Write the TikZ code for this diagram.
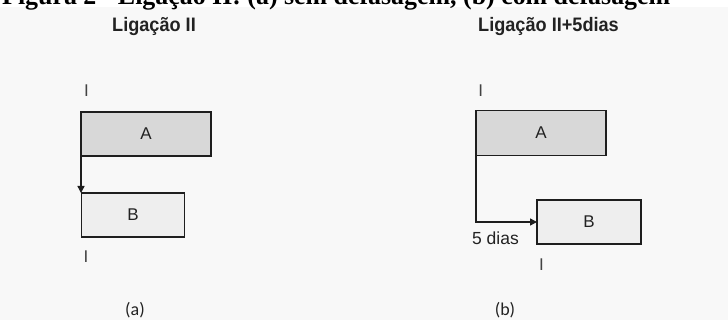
\documentclass[tikz,border=0pt]{standalone}
\usepackage{fontspec}
\setmainfont{Liberation Sans}
\newfontfamily\titlefont{Liberation Serif}
\newfontfamily\capfont{Carlito}
\usetikzlibrary{arrows.meta}
\definecolor{bgc}{HTML}{F8F8F8}
\definecolor{afill}{HTML}{D8D8D8}
\definecolor{bfill}{HTML}{EEEEEE}
\definecolor{edge}{HTML}{1E1E1E}
\definecolor{txt}{HTML}{222222}
\tikzset{
  taskbox/.style={draw=edge, line width=1.8pt, inner sep=0pt, outer sep=0pt, anchor=north west,
    font=\fontsize{17}{17}\selectfont, text=txt},
  conn/.style={draw=edge, line width=1.4pt, -{Triangle[length=7pt,width=7pt]}},
  tick/.style={inner sep=0pt, font=\fontsize{17}{17}\selectfont, text=txt!85},
  heading/.style={inner sep=0pt, anchor=base, font=\bfseries\fontsize{19.5}{19.5}\selectfont, text=txt, xscale=0.93},
  caption/.style={inner sep=0pt, font=\capfont\fontsize{18}{18}\selectfont, text=txt},
  lbl/.style={inner sep=0pt, font=\fontsize{17.5}{17.5}\selectfont, text=txt}
}
\begin{document}
\begin{tikzpicture}[x=1pt,y=-1pt]
\useasboundingbox (0,0) rectangle (728,320);
\fill[white] (0,0) rectangle (728,320);
\fill[bgc] (0,7) rectangle (728,320);
% clipped title
\node[inner sep=0pt, anchor=base west] (title) at (2,5)
  {\resizebox{668pt}{!}{\titlefont\bfseries Figura 2 - Ligação II: (a) sem defasagem, (b) com defasagem}};
% headings
\node[heading] (ha) at (154,32) {Ligação II};
\node[heading] (hb) at (548.5,32) {Ligação II+5dias};
% panel (a)
\node[taskbox, fill=afill, minimum width=130pt, minimum height=44pt] (aA) at (81,112) {A};
\node[taskbox, fill=bfill, minimum width=103pt, minimum height=44pt] (aB) at (81.5,193) {B};
\draw[conn] (aA.south west) -- (aA.south west |- aB.north);
\node[tick] (aI1) at (86.5,90.5) {I};
\node[tick] (aI2) at (86,256.5) {I};
\node[caption] (capa) at (135,310.5) {(a)};
% panel (b)
\node[taskbox, fill=afill, minimum width=130pt, minimum height=45pt] (bA) at (476,110.5) {A};
\node[taskbox, fill=bfill, minimum width=104pt, minimum height=44pt] (bB) at (537,200) {B};
\draw[conn] (bA.south west) |- (bB.west);
\node[lbl] (dias) at (495.5,238) {5 dias};
\node[tick] (bI1) at (480.7,91) {I};
\node[tick] (bI2) at (541.5,265) {I};
\node[caption] (capb) at (505,310.5) {(b)};
\end{tikzpicture}
\end{document}
